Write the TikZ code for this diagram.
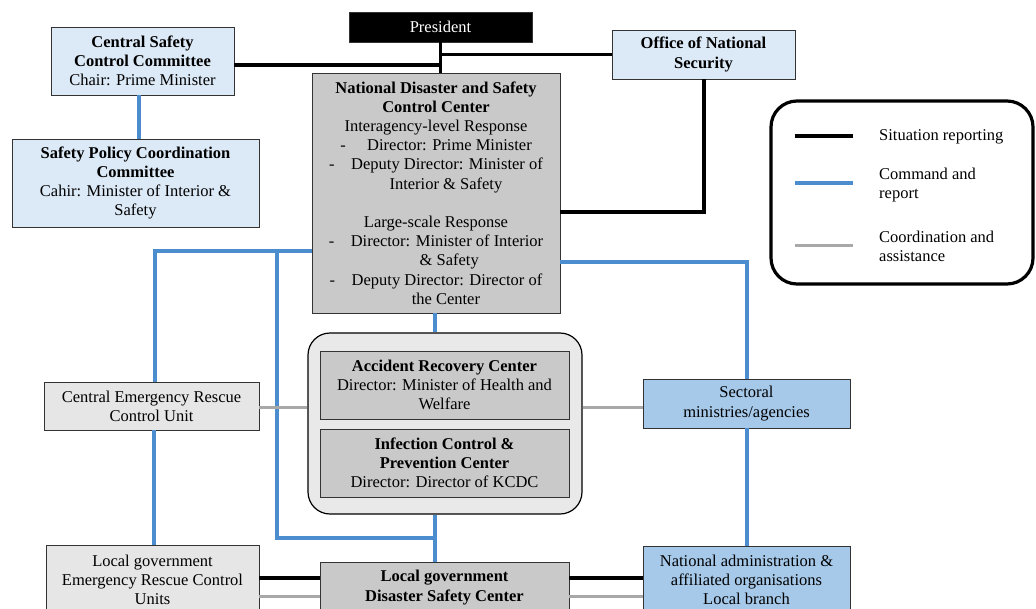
\documentclass[tikz,border=0pt]{standalone}
\usepackage{fontspec}
\setmainfont{Liberation Serif}
\definecolor{lblue}{HTML}{DCE9F6}
\definecolor{mblue}{HTML}{A6C8E9}
\definecolor{dgray}{HTML}{C9C9C9}
\definecolor{lgray}{HTML}{E6E6E6}
\definecolor{cgray}{HTML}{E9E9E9}
\definecolor{lineblue}{HTML}{4C8DCF}
\definecolor{linegray}{HTML}{A8A8A8}
\newcommand\diagfont{\fontsize{16.5}{19.2}\selectfont}
\begin{document}
\begin{tikzpicture}[x=1pt,y=-1pt,
  box/.style={draw=black!80, line width=0.9pt, align=center, inner sep=0pt, font=\diagfont},
  sit/.style={line width=3.5pt, draw=black},
  cmd/.style={line width=3.2pt, draw=lineblue},
  coo/.style={line width=3pt, draw=linegray},
  legtext/.style={anchor=west, align=left, inner sep=0pt, font=\diagfont}]
\useasboundingbox (0,0) rectangle (1036,608);
\clip (0,0) rectangle (1036,608);

% nodes
\node[box, fill=black, text=white, minimum width=183pt, minimum height=30pt] (pres) at (440.5,27) {President};
\node[box, fill=lblue, minimum width=183pt, minimum height=68pt] (cscc) at (142.5,61)
  {\textbf{Central Safety}\\\textbf{Control Committee}\\Chair: Prime Minister};
\node[box, fill=lblue, minimum width=247pt, minimum height=88pt] (spcc) at (135.5,183)
  {\textbf{Safety Policy Coordination}\\\textbf{Committee}\\Cahir: Minister of Interior \&\\Safety};
\node[box, fill=lblue, minimum width=183pt, minimum height=49pt] (ons) at (703.5,54.5)
  {\textbf{Office of National}\\\textbf{Security}};
\node[box, fill=dgray, minimum width=248pt, minimum height=240pt] (ndscc) at (436,193)
  {\textbf{National Disaster and Safety}\\\textbf{Control Center}\\Interagency-level Response\\
   -\hspace{1.3em}Director: Prime Minister\\
   -\hspace{1em}Deputy Director: Minister of\\
   \hspace*{1.2em}Interior \& Safety\\
   ~\\
   Large-scale Response\\
   -\hspace{1em}Director: Minister of Interior\\
   \hspace*{1.6em}\& Safety\\
   -\hspace{1em}Deputy Director: Director of\\
   \hspace*{1.2em}the Center};
\node[box, fill=lgray, minimum width=215pt, minimum height=48pt] (cercu) at (151.5,406)
  {Central Emergency Rescue\\Control Unit};
\node[draw=black, line width=1.2pt, fill=cgray, rounded corners=22pt, minimum width=274pt, minimum height=181pt, inner sep=0pt] (cont) at (445,423.5) {};
\node[box, fill=dgray, minimum width=249pt, minimum height=68pt] (arc) at (444.5,385)
  {\textbf{Accident Recovery Center}\\Director: Minister of Health and\\Welfare};
\node[box, fill=dgray, minimum width=249pt, minimum height=68pt] (icpc) at (444.5,463)
  {\textbf{Infection Control \&}\\\textbf{Prevention Center}\\Director: Director of KCDC};
\node[box, fill=mblue, minimum width=207pt, minimum height=49pt] (sect) at (746.5,403.5)
  {Sectoral\\ministries/agencies};
\node[box, fill=lgray, minimum width=213pt, minimum height=70pt] (lgercu) at (152.5,580)
  {Local government\\Emergency Rescue Control\\Units};
\node[box, fill=dgray, minimum width=249pt, minimum height=51pt] (lgdsc) at (444.5,587.5)
  {\textbf{Local government}\\\textbf{Disaster Safety Center}};
\node[box, fill=mblue, minimum width=207pt, minimum height=68pt] (nadmin) at (746.5,580)
  {National administration \&\\affiliated organisations\\Local branch};

% junction coordinates
\coordinate (jA) at (440,65);
\coordinate (jB) at (704,212);
\coordinate (jC) at (139,0);
\coordinate (jD) at (155,251);
\coordinate (jE) at (277,251);
\coordinate (jF) at (277,538);
\coordinate (jG) at (435,538);
\coordinate (jH) at (154,0);
\coordinate (jI) at (747,262);
\coordinate (jJ) at (0,407);
\coordinate (jK) at (0,578);
\coordinate (jL) at (0,596);

% situation reporting
\draw[sit] (cscc.east |- jA) -- (jA);
\draw[sit] (pres.south) -- (pres.south |- ndscc.north);
\draw[sit] (ons.west) -- (ons.west -| pres.south);
\draw[sit] (ons.south -| jB) -- (jB) -- (ndscc.east |- jB);
\draw[sit] (lgercu.east |- jK) -- (lgdsc.west |- jK);
\draw[sit] (lgdsc.east |- jK) -- (nadmin.west |- jK);

% command and report
\draw[cmd] (cscc.south -| jC) -- (spcc.north -| jC);
\draw[cmd] (ndscc.west |- jD) -- (jD) -- (cercu.north -| jD);
\draw[cmd] (jE) -- (jF) -- (jG);
\draw[cmd] (ndscc.south -| jG) -- (cont.north -| jG);
\draw[cmd] (cont.south -| jG) -- (lgdsc.north -| jG);
\draw[cmd] (cercu.south -| jH) -- (lgercu.north -| jH);
\draw[cmd] (ndscc.east |- jI) -- (jI) -- (sect.north -| jI);
\draw[cmd] (sect.south -| jI) -- (nadmin.north -| jI);

% coordination and assistance
\draw[coo] (cercu.east |- jJ) -- (cont.west |- jJ);
\draw[coo] (cont.east |- jJ) -- (sect.west |- jJ);
\draw[coo] (lgercu.east |- jL) -- (lgdsc.west |- jL);
\draw[coo] (lgdsc.east |- jL) -- (nadmin.west |- jL);

% legend
\draw[line width=3.2pt, rounded corners=26pt] (771,101) rectangle (1033,284);
\coordinate (l1a) at (795,136); \coordinate (l1b) at (853,136);
\coordinate (l2a) at (795,183); \coordinate (l2b) at (853,183);
\coordinate (l3a) at (795,245); \coordinate (l3b) at (853,245);
\draw[sit] (l1a) -- (l1b);
\draw[cmd] (l2a) -- (l2b);
\draw[coo] (l3a) -- (l3b);
\node[legtext] (lt1) at (879,137) {Situation reporting};
\node[legtext] (lt2) at (879,185) {Command and\\report};
\node[legtext] (lt3) at (879,246.5) {Coordination and\\assistance};
\end{tikzpicture}
\end{document}
